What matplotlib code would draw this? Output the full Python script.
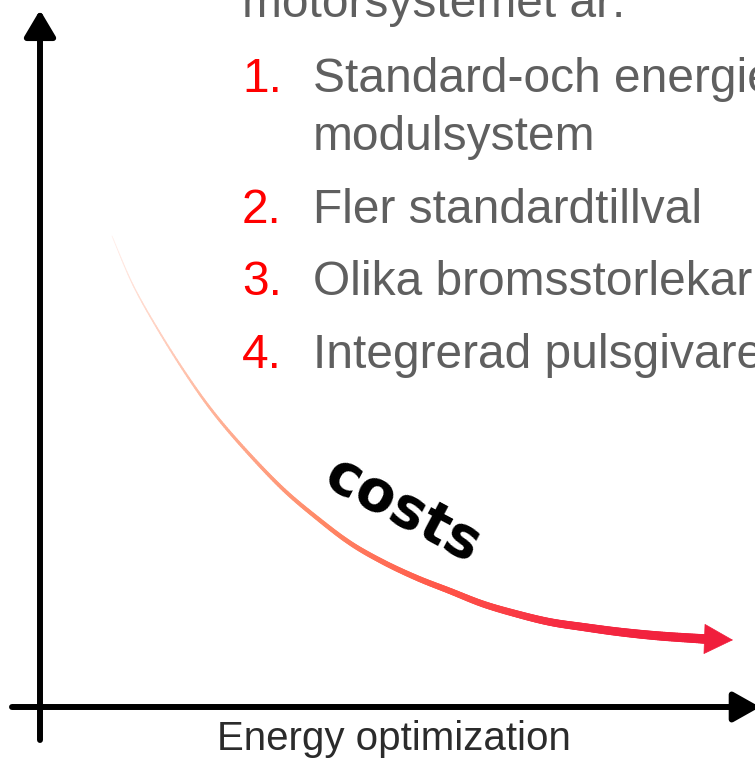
import numpy as np
import matplotlib
matplotlib.use("Agg")
import matplotlib.pyplot as plt
from matplotlib import font_manager
from matplotlib.collections import LineCollection
from matplotlib.colors import LinearSegmentedColormap

# points along the "costs" curve (picture pixels, y down); last point = arrow tip
curve_x = [112, 133, 160, 190, 217, 250, 284, 317, 350, 383, 417, 450, 483,
           517, 550, 583, 620, 660, 705, 733]
curve_y = [236, 285, 333, 380, 417, 455, 490, 518, 543, 562, 578, 591, 604,
           614, 622, 627, 632, 636, 639, 640]

header = "motorsystemet är:"
numbers = ["1.", "2.", "3.", "4."]
items = ["Standard-och energieffektiva\nmodulsystem", "Fler standardtillval",
         "Olika bromsstorlekar", "Integrerad pulsgivare"]
item_baselines = [92, 223, 295, 368]
xlabel = "Energy optimization"
curve_label = "costs"


def catmull_rom(x, y, n=20):
    p = np.column_stack([x, y]).astype(float)
    p = np.vstack([p[0], p, p[-1]])
    out = []
    for i in range(1, len(p) - 2):
        p0, p1, p2, p3 = p[i - 1], p[i], p[i + 1], p[i + 2]
        for s in np.linspace(0, 1, n, endpoint=False):
            out.append(0.5 * ((2 * p1) + (-p0 + p2) * s
                              + (2 * p0 - 5 * p1 + 4 * p2 - p3) * s ** 2
                              + (-p0 + 3 * p1 - 3 * p2 + p3) * s ** 3))
    out.append(p[-2])
    return np.array(out)


W, H = 755, 759
fig = plt.figure(figsize=(W / 100, H / 100), dpi=100)
ax = fig.add_axes([0, 0, 1, 1])
ax.set_xlim(0, W)
ax.set_ylim(H, 0)
ax.axis("off")

# axes arrows
ax.annotate("", xy=(40, 10), xytext=(40, 740), annotation_clip=False,
            arrowprops=dict(arrowstyle="-|>,head_length=16,head_width=9.5",
                            mutation_scale=1, color="black", lw=4.3,
                            shrinkA=0, shrinkB=0))
ax.annotate("", xy=(760, 707), xytext=(12, 707), annotation_clip=False,
            arrowprops=dict(arrowstyle="-|>,head_length=16,head_width=9",
                            mutation_scale=1, color="black", lw=4.3,
                            shrinkA=0, shrinkB=0))

# gradient curve, thin & pale at the top, thick & red at the end
cx = np.array(curve_x, dtype=float)
cy = np.array(curve_y, dtype=float)
sm = catmull_rom(cx[:-1], cy[:-1])
segs = np.stack([sm[:-1], sm[1:]], axis=1)
frac = np.linspace(0, 1, len(segs))
cmap = LinearSegmentedColormap.from_list(
    "cost", ["#fff0ec", "#ffb69c", "#ff8866", "#ff5648", "#f62c42", "#f01e3c"])
lc = LineCollection(segs, colors=cmap(frac), linewidths=0.5 + 6.3 * frac ** 0.95,
                    capstyle="round")
ax.add_collection(lc)
ax.annotate("", xy=(cx[-1], cy[-1]), xytext=(cx[-2], cy[-2]),
            arrowprops=dict(arrowstyle="-|>,head_length=20,head_width=10.5",
                            mutation_scale=1, color="#f01e3c", lw=0.5,
                            shrinkA=0, shrinkB=0))

ax.text(403, 511, curve_label, rotation=-28, ha="center", va="center",
        fontsize=41, fontweight="heavy", family="DejaVu Sans", color="black")

# slide text
gray = "#5f5f5f"
ax.text(242, 17, header, fontsize=34.5, color=gray, family="Liberation Sans",
        va="baseline", ha="left")
for num, item, yb in zip(numbers, items, item_baselines):
    ax.text(242, yb, num, fontsize=34.5, color="#ff0000", family="Liberation Sans",
            va="baseline", ha="left")
    for k, line in enumerate(item.split("\n")):
        ax.text(313, yb + 58 * k, line, fontsize=34.5, color=gray,
                family="Liberation Sans", va="baseline", ha="left")

# condensed face for the x label if one is installed
names = {f.name for f in font_manager.fontManager.ttflist}
if "Liberation Sans Narrow" in names:
    lab_kw = dict(family="Liberation Sans Narrow", fontsize=34)
else:
    lab_kw = dict(family="Liberation Sans", fontsize=29)
ax.text(394, 750, xlabel, color="#2b2b2b", va="baseline", ha="center", **lab_kw)

fig.savefig("out.png", dpi=100, facecolor="white")
